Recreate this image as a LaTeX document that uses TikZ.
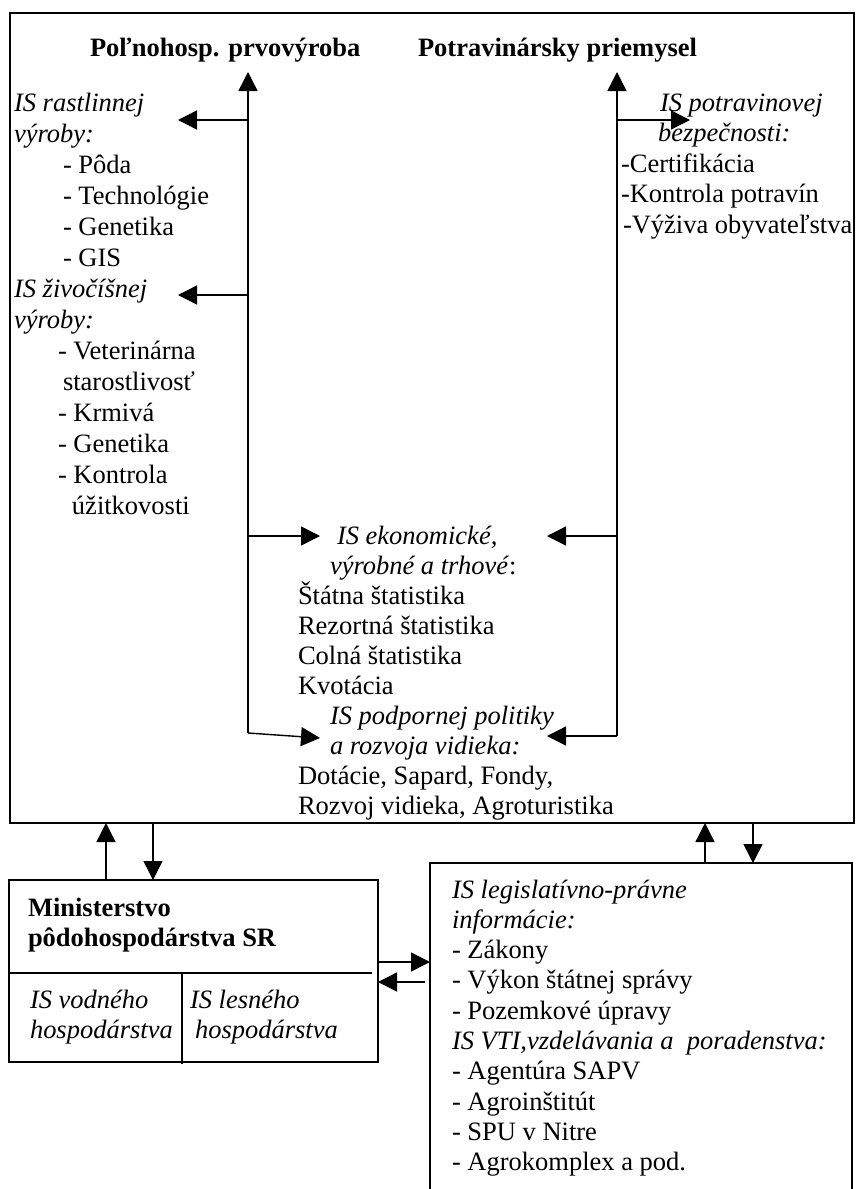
\documentclass[tikz,border=0pt]{standalone}
\usepackage{fontspec}
\setmainfont{Liberation Serif}
\usetikzlibrary{arrows.meta}
% strut that fixes the top of the first line of a text block
\newcommand\topln{\rule{0pt}{26pt}}
\begin{document}
\begin{tikzpicture}[x=1pt,y=-1pt,
  txt/.style={inner sep=0pt, outer sep=0pt, anchor=north west, align=left,
              font=\fontsize{26.5}{30.6}\selectfont},
  txtl/.style={txt, font=\fontsize{26.5}{31}\selectfont},
  txtb/.style={txt, font=\fontsize{26.5}{30.1}\selectfont},
  title/.style={inner sep=0pt, outer sep=0pt, anchor=base west,
                font=\fontsize{26.5}{30.6}\selectfont\bfseries},
  mainbox/.style={draw, line width=2.2pt, inner sep=0pt, outer sep=0pt},
  box/.style={draw, line width=1.6pt, inner sep=0pt, outer sep=0pt},
  flow/.style={line width=1.4pt, -{Triangle[length=19pt,width=19pt]}}
]
\useasboundingbox (0,0) rectangle (858,1189);

% main frame
\node[mainbox, minimum width=844pt, minimum height=810pt] (sys) at (432,418) {};

% headings
\node[title] (prim) at (90,56) {Poľnohosp. prvovýroba};
\node[title] (food) at (418,56) {Potravinársky priemysel};

% left column
\node[txtl] (rast) at (14,85) {\topln\textit{IS rastlinnej}\\
  \textit{výroby:}\\
  \hspace*{49pt}- Pôda\\
  \hspace*{49pt}- Technológie\\
  \hspace*{49pt}- Genetika\\
  \hspace*{49pt}- GIS};
\node[txtl] (ziv) at (14,271) {\topln\textit{IS živočíšnej}\\
  \textit{výroby:}\\
  \hspace*{44pt}- Veterinárna\\
  \hspace*{49pt}starostlivosť\\
  \hspace*{44pt}- Krmivá\\
  \hspace*{44pt}- Genetika\\
  \hspace*{44pt}- Kontrola\\
  \hspace*{58pt}úžitkovosti};

% right column
\node[txt] (potr) at (620,85) {\topln\hspace*{40pt}\textit{IS potravinovej}\\
  \hspace*{38pt}\textit{bezpečnosti:}\\
  \hspace*{1pt}-Certifikácia\\
  \hspace*{1pt}-Kontrola potravín\\
  \hspace*{3pt}-Výživa obyvateľstva};

% middle blocks
\node[txtb] (ekon) at (298,518) {\topln\hspace*{39pt}\textit{IS ekonomické,}\\
  \hspace*{32pt}\textit{výrobné a trhové}:\\
  Štátna štatistika\\
  Rezortná štatistika\\
  Colná štatistika\\
  Kvotácia};
\node[txtb] (podp) at (298,698.6) {\topln\hspace*{32pt}\textit{IS podpornej politiky}\\
  \hspace*{32pt}\textit{a rozvoja vidieka:}\\
  Dotácie, Sapard, Fondy,\\
  Rozvoj vidieka, Agroturistika};

% trunks and branches
\coordinate (Ltop) at (248,72);
\coordinate (Lbot) at (248,733);
\coordinate (Rtop) at (617,72);
\coordinate (Rbot) at (617,736);
\draw[flow] (Lbot) -- (Ltop);
\draw[flow] (Rbot) -- (Rtop);

\coordinate (a1) at (178,120);
\coordinate (a2) at (178,295);
\coordinate (a3) at (320,536);
\coordinate (a4) at (320,738);
\draw[flow] (Ltop |- a1) -- (a1);
\draw[flow] (Ltop |- a2) -- (a2);
\draw[flow] (Ltop |- a3) -- (a3);
\draw[flow] (Lbot) -- (a4);

\coordinate (b1) at (690,120);
\coordinate (b2) at (547,536);
\coordinate (b3) at (547,736);
\draw[flow] (Rtop |- b1) -- (b1);
\draw[flow] (Rtop |- b2) -- (b2);
\draw[flow] (Rbot) -- (b3);

% ministry box
\node[box, minimum width=369pt, minimum height=182pt] (min) at (193.5,971) {};
\node[txt, font=\fontsize{26.5}{30}\selectfont\bfseries] (minT) at (28,890)
  {\topln Ministerstvo\\ pôdohospodárstva SR};
\coordinate (mdiv) at (0,973);
\coordinate (vdiv) at (182,973);
\draw[line width=1.4pt] (min.west |- mdiv) -- ++(363,0);
\draw[line width=1.4pt] (vdiv) -- ([yshift=-2pt]vdiv |- min.south);
\node[txt] (voda) at (30,982) {\topln\textit{IS vodného}\\ \textit{hospodárstva}};
\node[txt] (les) at (190,982) {\topln\textit{IS lesného}\\ \hspace*{5pt}\textit{hospodárstva}};

% legislation and education box (open at the lower edge)
\node[minimum width=422pt, minimum height=337pt, inner sep=0pt, outer sep=0pt] (leg) at (641,1031.5) {};
\draw[line width=1.6pt] (leg.south west) |- (leg.north east) -- (leg.south east);
\node[txt, font=\fontsize{26.5}{30.3}\selectfont] (legT) at (452,872) {\topln\textit{IS legislatívno-právne}\\
  \textit{informácie:}\\
  - Zákony\\
  - Výkon štátnej správy\\
  - Pozemkové úpravy\\
  \textit{IS VTI,vzdelávania a\ \ poradenstva:}\\
  - Agentúra SAPV\\
  - Agroinštitút\\
  - SPU v Nitre\\
  - Agrokomplex a pod.};

% links between the frames
\coordinate (v1) at (106,0);
\coordinate (v2) at (153,0);
\coordinate (v3) at (705,0);
\coordinate (v4) at (753,0);
\draw[flow] (min.north -| v1) -- (sys.south -| v1);
\draw[flow] (sys.south -| v2) -- (min.north -| v2);
\draw[flow] (leg.north -| v3) -- (sys.south -| v3);
\draw[flow] (sys.south -| v4) -- (leg.north -| v4);

\coordinate (h1) at (0,962);
\coordinate (h2) at (0,982);
\draw[flow] (min.east |- h1) -- (leg.west |- h1);
\draw[flow, shorten <=5pt] (leg.west |- h2) -- (min.east |- h2);
\end{tikzpicture}
\end{document}
